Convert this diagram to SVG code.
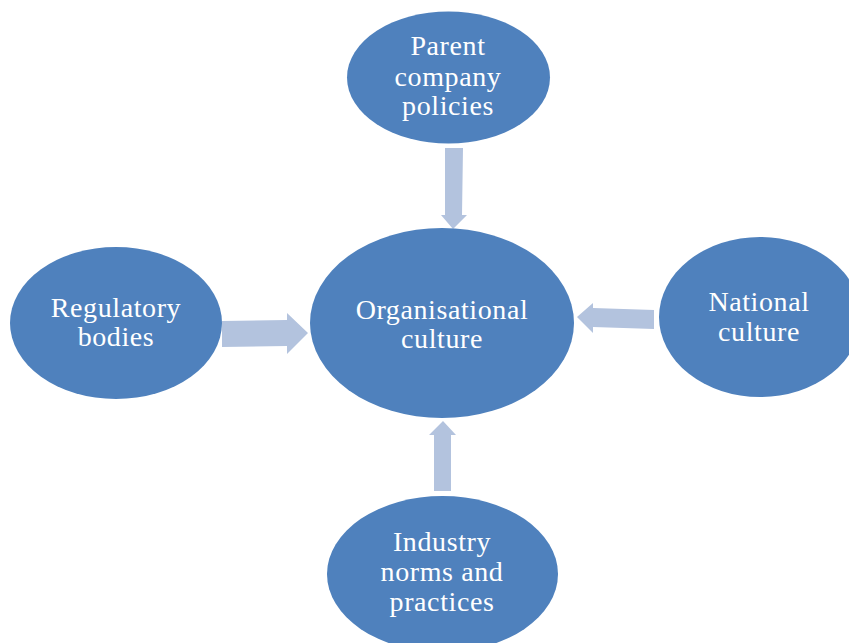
<svg xmlns="http://www.w3.org/2000/svg" width="849" height="643" viewBox="0 0 849 643">
<style>
.node{fill:#4F81BD;}
.arrow{fill:#B3C3DE;}
.lbl{font-family:"Liberation Serif","Times New Roman",serif;font-size:28px;letter-spacing:0.6px;fill:#FFFFFF;text-anchor:middle;}
</style>
<rect width="849" height="643" fill="#FFFFFF"/>
<g id="connectors">
<polygon class="arrow" points="445,148 463,148 462,215 467,215 453,229 441,215 445,215"/>
<polygon class="arrow" points="222,321 287,320 287,313 308,333 287,354 287,346 222,347"/>
<polygon class="arrow" points="654,310 654,329 593,327 593,333 577,317 593,303 593,308"/>
<polygon class="arrow" points="434,491 451,491 451,435 456,435 443,421 429,435 434,435"/>
</g>
<g id="node-center">
<ellipse class="node" cx="442" cy="323" rx="132" ry="95"/>
<text class="lbl" x="442" y="319">Organisational</text>
<text class="lbl" x="442" y="348">culture</text>
</g>
<g id="node-parent">
<ellipse class="node" cx="448.5" cy="77.5" rx="101.5" ry="66"/>
<text class="lbl" x="448" y="55">Parent</text>
<text class="lbl" x="448" y="86">company</text>
<text class="lbl" x="448" y="115">policies</text>
</g>
<g id="node-regulatory">
<ellipse class="node" cx="116" cy="323" rx="106" ry="76"/>
<text class="lbl" x="116" y="317">Regulatory</text>
<text class="lbl" x="116" y="346">bodies</text>
</g>
<g id="node-national">
<ellipse class="node" cx="760" cy="317" rx="101" ry="80"/>
<text class="lbl" x="759" y="311">National</text>
<text class="lbl" x="759" y="341">culture</text>
</g>
<g id="node-industry">
<ellipse class="node" cx="442.5" cy="574" rx="115.5" ry="78"/>
<text class="lbl" x="442" y="551">Industry</text>
<text class="lbl" x="442" y="581">norms and</text>
<text class="lbl" x="442" y="611">practices</text>
</g>
</svg>
